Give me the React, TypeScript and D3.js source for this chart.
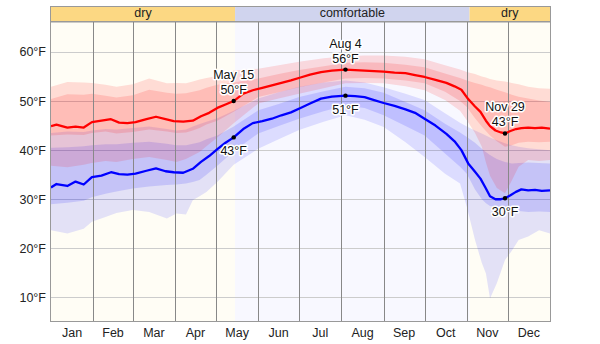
import React from 'react';
import * as d3 from 'd3';

// ---- data ----
const lineDays = [0, 4, 12, 18, 24, 30, 37, 44, 50, 56, 62, 70, 77, 84, 90, 97, 104, 110, 116, 122, 128, 134, 141, 148, 155, 162, 169, 176, 183, 190, 198, 206, 216, 223, 230, 237, 244, 252, 260, 267, 274, 282, 290, 296, 301, 306, 311, 315, 319, 322, 326, 330, 333, 337, 341, 345, 350, 355, 360, 366];
const highTemp = [44.9, 45.2, 44.6, 44.8, 44.6, 45.7, 46.0, 46.3, 45.6, 45.5, 45.7, 46.3, 46.8, 46.3, 45.9, 45.8, 46.0, 46.9, 47.6, 48.6, 49.3, 50.0, 51.5, 52.2, 52.7, 53.2, 53.7, 54.2, 54.8, 55.4, 55.9, 56.2, 56.4, 56.3, 56.2, 56.1, 56.0, 55.8, 55.7, 55.3, 54.9, 54.3, 53.7, 53.0, 52.3, 50.4, 48.9, 47.8, 46.0, 44.9, 44.0, 43.6, 43.4, 43.9, 44.3, 44.5, 44.6, 44.5, 44.6, 44.4];
const lowTemp = [32.4, 33.1, 32.7, 33.6, 33.0, 34.5, 34.8, 35.5, 35.1, 35.0, 35.2, 35.8, 36.3, 35.7, 35.5, 35.4, 36.2, 37.6, 38.8, 40.2, 41.5, 42.6, 44.3, 45.5, 45.9, 46.4, 47.1, 47.7, 48.6, 49.5, 50.5, 50.9, 51.1, 51.0, 50.8, 50.2, 49.6, 49.0, 48.3, 47.6, 46.4, 45.0, 43.3, 41.8, 40.0, 37.3, 35.6, 34.2, 32.2, 30.6, 30.0, 30.0, 30.2, 30.8, 31.5, 32.0, 31.8, 31.9, 31.7, 31.8];

const bandDays = [0, 12, 24, 30, 40, 48, 60, 72, 85, 92, 99, 104, 109, 114, 122, 134, 152, 167, 182, 200, 216, 230, 244, 260, 274, 289, 300, 305, 311, 316, 319, 322, 327, 333, 338, 343, 350, 358, 366];
const highP90 = [52.9, 53.9, 53.8, 53.7, 53.3, 52.9, 53.4, 54.6, 53.6, 53.7, 53.6, 54.0, 54.4, 54.7, 55.1, 56.2, 56.6, 57.3, 58.0, 58.7, 59.1, 59.3, 59.3, 59.0, 58.5, 57.3, 56.4, 55.9, 55.5, 55.0, 54.8, 54.5, 54.2, 54.0, 53.7, 53.4, 52.9, 52.6, 52.5];
const highP75 = [50.4, 51.4, 51.3, 51.5, 51.1, 50.7, 51.2, 52.3, 51.7, 51.5, 51.6, 51.9, 52.2, 52.7, 53.3, 53.8, 54.6, 55.5, 56.3, 57.1, 57.8, 57.9, 57.8, 57.4, 56.9, 55.6, 54.7, 54.2, 53.7, 53.3, 53.0, 52.8, 52.3, 51.8, 51.3, 50.9, 50.5, 50.1, 49.8];
const highP25 = [43.0, 43.2, 43.1, 43.5, 43.8, 43.4, 43.7, 44.2, 43.8, 43.5, 43.6, 44.0, 44.5, 45.2, 46.0, 47.8, 50.8, 51.8, 52.8, 53.8, 54.6, 54.7, 54.6, 54.2, 53.6, 51.9, 50.0, 48.8, 46.5, 44.8, 43.9, 43.0, 41.8, 40.7, 41.0, 41.5, 41.7, 41.6, 41.7];
const highP10 = [36.8, 36.5, 37.0, 37.4, 37.8, 37.6, 38.2, 38.6, 38.0, 37.6, 38.2, 38.9, 39.6, 40.8, 42.6, 45.5, 49.5, 50.5, 51.5, 52.6, 53.6, 53.7, 53.6, 53.0, 52.2, 50.2, 48.0, 46.1, 43.5, 40.7, 37.5, 34.8, 32.3, 31.2, 33.8, 36.6, 38.0, 37.8, 38.0];
const lowP90 = [43.5, 43.8, 43.7, 44.0, 44.3, 44.2, 44.5, 44.8, 44.3, 44.0, 44.2, 44.8, 45.3, 45.8, 46.5, 48.0, 50.5, 51.8, 52.9, 53.8, 54.2, 53.8, 52.8, 51.5, 50.2, 47.5, 45.6, 44.8, 44.0, 43.4, 43.0, 42.6, 42.0, 41.4, 41.0, 40.7, 40.4, 40.2, 40.0];
const lowP75 = [40.5, 40.6, 40.8, 41.0, 41.2, 41.2, 41.5, 41.7, 41.3, 41.0, 41.0, 41.3, 41.6, 42.2, 43.0, 44.8, 48.1, 49.4, 50.8, 52.0, 52.9, 52.6, 51.7, 49.8, 48.1, 45.4, 43.6, 42.7, 41.5, 40.3, 39.6, 39.0, 38.2, 37.6, 37.3, 37.4, 37.5, 37.4, 37.3];
const lowP25 = [29.0, 29.3, 29.7, 30.4, 31.1, 31.6, 32.2, 32.6, 32.9, 33.0, 33.2, 33.5, 33.9, 35.0, 36.8, 39.8, 43.4, 44.9, 46.4, 47.9, 49.1, 48.6, 47.1, 44.9, 43.0, 39.3, 36.6, 35.2, 32.0, 30.0, 29.2, 28.6, 28.4, 28.4, 28.0, 27.6, 27.4, 27.5, 27.4];
const lowP10 = [23.7, 23.0, 24.0, 25.4, 26.4, 27.2, 27.8, 27.4, 26.1, 27.1, 26.9, 29.8, 30.6, 31.5, 33.5, 37.0, 40.3, 42.2, 44.1, 45.8, 47.1, 46.2, 44.7, 41.6, 38.6, 35.2, 33.2, 28.4, 21.7, 17.0, 14.9, 9.8, 12.9, 17.6, 19.5, 21.7, 22.4, 23.7, 23.0];

const monthLabels = ['Jan', 'Feb', 'Mar', 'Apr', 'May', 'Jun', 'Jul', 'Aug', 'Sep', 'Oct', 'Nov', 'Dec'];
const yTicks = [10, 20, 30, 40, 50, 60];

const seasonLabels = ['dry', 'comfortable', 'dry'];
const seasonStarts = [0, 135, 307];
const seasonEnds = [135, 307, 366];

const annDays = [134, 216, 333];
const annDates = ['May 15', 'Aug 4', 'Nov 29'];

// ---- layout ----
const W = 600, H = 344;
const L = 51, R = 550, T = 22, B = 321, BAND_T = 6.5;
const FONT = "'Liberation Sans', Arial, sans-serif";

export default function App() {
  const x = d3.scaleLinear().domain([0, 366]).range([L, R]);
  const y = d3.scaleLinear().domain([5.2, 66.1]).range([B, T]);
  const start = new Date(2024, 0, 1);
  const monthStarts = d3.timeMonths(start, new Date(2025, 0, 1)).map(d => d3.timeDay.count(start, d));
  const monthBounds = [...monthStarts, 366];

  const bandIdx = bandDays.map((_, i) => i);
  const area = (lo: number[], hi: number[]) =>
    d3.area<number>().x(i => x(bandDays[i])).y0(i => y(lo[i])).y1(i => y(hi[i]))(bandIdx) || '';
  const lineIdx = lineDays.map((_, i) => i);
  const line = (v: number[]) => d3.line<number>().x(i => x(lineDays[i])).y(i => y(v[i]))(lineIdx) || '';

  const seasonFill = (s: string) => (s === 'dry' ? '#fffdf5' : '#f8f8ff');
  const seasonBand = (s: string) => (s === 'dry' ? '#fcd883' : '#d0d4ee');

  const halo = { stroke: '#fff', strokeWidth: 3, paintOrder: 'stroke' as const, strokeLinejoin: 'round' as const };

  return (
    <svg width={W} height={H} style={{ position: 'absolute', left: 0, top: 0, display: 'block', background: '#fff' }} fontFamily={FONT} fontSize={12.5}>
      <defs>
        <clipPath id="plotClip"><rect x={L} y={T} width={R - L} height={B - T} /></clipPath>
      </defs>
      {seasonLabels.map((s, i) => (
        <g key={'s' + i}>
          <rect x={x(seasonStarts[i])} y={T} width={x(seasonEnds[i]) - x(seasonStarts[i])} height={B - T} fill={seasonFill(s)} />
          <rect x={x(seasonStarts[i])} y={BAND_T} width={x(seasonEnds[i]) - x(seasonStarts[i])} height={T - BAND_T} fill={seasonBand(s)} />
          <text x={(x(seasonStarts[i]) + x(seasonEnds[i])) / 2} y={17} textAnchor="middle" fill="#222">{s}</text>
        </g>
      ))}
      <rect x={L - 0.5} y={BAND_T} width={R - L + 1} height={T - BAND_T} fill="none" stroke="#999" strokeWidth={1} />

      {yTicks.map(t => (
        <line key={'h' + t} x1={L} x2={R} y1={Math.round(y(t)) + 0.5} y2={Math.round(y(t)) + 0.5} stroke="#ccc" strokeWidth={1} />
      ))}

      <g clipPath="url(#plotClip)">
        <path d={area(lowP10, lowP90)} fill="rgb(0,0,255)" fillOpacity={0.11} />
        <path d={area(lowP25, lowP75)} fill="rgb(0,0,255)" fillOpacity={0.13} />
        <path d={area(highP10, highP90)} fill="rgb(255,0,0)" fillOpacity={0.13} />
        <path d={area(highP25, highP75)} fill="rgb(255,0,0)" fillOpacity={0.14} />
      </g>

      {monthStarts.slice(1).map((d, i) => (
        <line key={'v' + i} x1={Math.round(x(d)) + 0.5} x2={Math.round(x(d)) + 0.5} y1={T} y2={B} stroke="#888" strokeWidth={1} />
      ))}

      <g clipPath="url(#plotClip)">
        <path d={line(highTemp)} fill="none" stroke="#ff0000" strokeWidth={2.3} strokeLinejoin="round" />
        <path d={line(lowTemp)} fill="none" stroke="#0000ff" strokeWidth={2.3} strokeLinejoin="round" />
      </g>

      <rect x={L - 0.5} y={T - 0.5} width={R - L + 1} height={B - T + 1} fill="none" stroke="#999" strokeWidth={1} />

      {yTicks.map(t => (
        <text key={'yl' + t} x={46} y={y(t) + 4.5} textAnchor="end" fill="#222">{t}°F</text>
      ))}

      {monthLabels.map((m, i) => (
        <text key={'m' + m} x={(x(monthBounds[i]) + x(monthBounds[i + 1])) / 2} y={337} textAnchor="middle" fill="#222">{m}</text>
      ))}

      {annDays.map((d, i) => {
        const k = lineDays.indexOf(d);
        const hx = x(d);
        const hy = y(highTemp[k]);
        const ly = y(lowTemp[k]);
        return (
          <g key={'a' + i}>
            <text x={hx} y={hy - 22} textAnchor="middle" fill="#111" {...halo}>{annDates[i]}</text>
            <text x={hx} y={hy - 7} textAnchor="middle" fill="#111" {...halo}>{Math.round(highTemp[k])}°F</text>
            <text x={hx} y={ly + 18} textAnchor="middle" fill="#111" {...halo}>{Math.round(lowTemp[k])}°F</text>
            <circle cx={hx} cy={hy} r={2.2} fill="#000" />
            <circle cx={hx} cy={ly} r={2.2} fill="#000" />
          </g>
        );
      })}
    </svg>
  );
}
